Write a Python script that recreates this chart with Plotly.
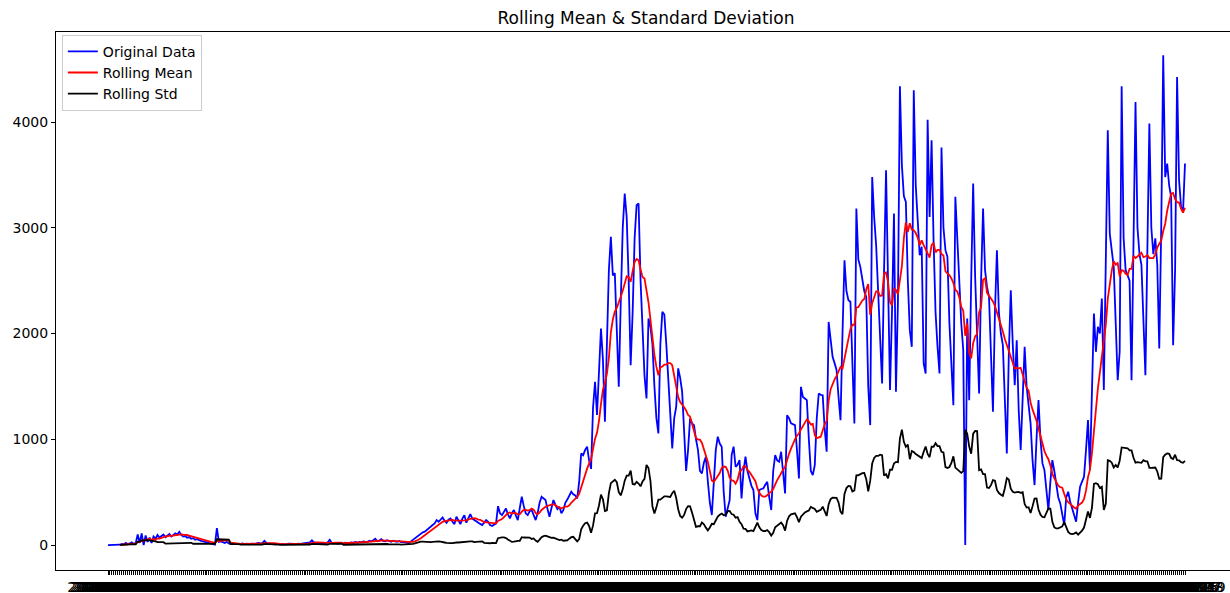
import pandas as pd
import plotly.graph_objects as go

# ---- daily values (Original Data) ----
seg0 = [0, 0, 0, 0, 0, 1,
        3, 10, 5, 20, 8, 15, 25, 10, 18,
        100, 20, 110, 0, 90, 30, 70, 20,
        80, 60, 95, 70, 85, 100, 75, 90, 105, 80, 95, 110, 100, 125,
        95, 80, 85, 70, 75, 60, 65, 50, 55, 45, 40, 35, 30, 25, 20, 15, 10, 5,
        160,
        30, 35, 25, 20, 30, 15, 10]
seg1 = [10, 8, 12, 5, 10, 15, 8, 12, 6, 10,
        14, 9, 12, 20, 15, 18, 40, 20, 12, 10,
        8, 12, 6, 10, 8, 5, 10, 7, 12, 9,
        6, 10, 8, 14, 10, 12, 18, 15, 20, 25,
        45, 25, 20, 18, 22, 15, 20, 18, 25, 50,
        20, 15, 18, 12, 15, 20, 18, 22, 15, 20,
        25, 20, 28, 22, 30, 25, 35, 30, 28, 40,
        35, 45, 60, 35, 40, 55, 40, 35, 45, 38,
        30, 40, 35, 30, 38, 28, 30, 25, 22, 20]
seg2 = [35, 50, 60, 80, 95, 110, 120, 126, 140, 158,
        175, 190, 205, 236, 220, 245, 261, 230, 211, 240,
        252, 220, 198, 268, 230, 198, 250, 283, 211, 260,
        293, 250, 236, 220, 210, 200, 189, 210, 236, 220,
        190, 180, 195, 205, 368, 300, 283, 320, 346, 290,
        252, 300, 331, 280, 236, 350, 457, 370, 300, 283,
        320, 331, 280, 236, 300, 400, 457, 440, 425, 340,
        268, 350, 425, 380, 340]
seg3 = [362, 300, 330, 400, 430, 470, 504, 480, 470, 441,
        600, 866, 850, 900, 930, 800, 720, 1300, 1544, 1229,
        1700, 2047, 1750, 1166, 1900, 2600, 2914, 2550, 2570, 2000,
        1496, 2300, 3000, 3323, 3100, 2500, 1701, 2200, 2900, 3213,
        3229, 2500, 2000, 1600, 1386, 2142, 2060, 1900, 1500, 1200,
        1055, 1900, 2205, 2180, 1900, 1600, 1200, 914, 1200, 1307,
        1670, 1580, 1450, 1000, 700, 900, 1197, 1150, 1134, 1000,
        900, 700, 677, 780, 835, 600, 400, 284, 600, 900,
        1024, 960, 930, 500, 268, 350, 425, 850, 930, 740,
        760, 803]
seg4 = [441, 700, 835, 700, 614, 560, 520, 300, 236, 520,
        530, 535, 570, 598, 450, 331, 700, 850, 800, 787,
        882, 650, 488, 1228, 1200, 1150, 1140, 1134, 900, 630,
        1496, 1400, 1386, 1370, 1000, 700, 662, 756, 1200, 1433,
        1420, 1417, 1100, 882, 2110, 1950, 1780, 1720, 1654, 1400,
        1181, 2000, 2693, 2400, 2315, 2300, 1700, 1150, 3181, 2700,
        2630, 2520, 2400, 2347, 1500, 1134, 3480, 3100, 2835, 2400,
        2032, 1528, 2600, 3543, 2500, 1465, 2200, 3134, 1449, 2300,
        4338]
seg5 = [3590, 3300, 3244, 2500, 2032, 1874, 4300, 3400, 3000, 2740,
        2820, 1717, 1622, 4022, 3103, 3827, 2882, 2200, 1874, 1622,
        3758, 3000, 2788, 2725, 2100, 1654, 1323, 3292, 2900, 2400,
        2095, 1843, 0, 2142, 1370, 2500, 3418, 2536, 2000, 1433,
        2500, 3181, 2600, 2441, 2347, 1800, 1260, 2200, 2788, 2200,
        2000, 1890, 1300, 866, 1800, 2410, 1900, 1512, 1937, 1276,
        898, 1400, 1874, 1500, 1339, 1150, 800, 567, 1000, 1370,
        1000, 772, 709, 500, 331, 600, 803, 700, 551, 450,
        394, 300, 189, 450, 504, 410]
seg6 = [350, 280, 220, 400, 551, 600, 646, 900, 1181, 709,
        1500, 2189, 1827, 2063, 2000, 2331, 1465, 2700, 3922, 2945,
        2800, 2630, 2100, 1559, 1827, 4337, 2900, 2600, 2550, 2500,
        1559, 2700, 4190, 3000, 2750, 2650, 2200, 1606, 2800, 3985,
        3000, 2750, 2900, 2650, 1859, 3000, 4630, 3480, 3607, 3400,
        3292, 1890, 2600, 4426, 3450, 3200, 3150, 3607]

original = seg0 + seg1 + seg2 + seg3 + seg4 + seg5 + seg6
dates = list(pd.date_range("2020-01-22", periods=len(original), freq="D").strftime("%Y-%m-%d"))
y_ticks = [0, 1000, 2000, 3000, 4000]

series = pd.Series(original, index=dates, dtype=float)
rolling_mean = series.rolling(window=7).mean()
rolling_std = series.rolling(window=7).std()

fig = go.Figure()
fig.add_trace(go.Scatter(x=dates, y=series.values, mode="lines", name="Original Data",
                         line=dict(color="#0000ff", width=1.8)))
fig.add_trace(go.Scatter(x=dates, y=rolling_mean.values, mode="lines", name="Rolling Mean",
                         line=dict(color="#ff0000", width=1.8)))
fig.add_trace(go.Scatter(x=dates, y=rolling_std.values, mode="lines", name="Rolling Std",
                         line=dict(color="#000000", width=1.8)))

n = len(dates)
px_per_day = (1185 - 108) / (n - 1)
left_pad = (108 - 56) / px_per_day
right_pad = (1230 - 1185) / px_per_day

fig.update_layout(
    template="none",
    width=1230, height=593,
    margin=dict(l=56, r=0, t=32, b=23, pad=0),
    paper_bgcolor="white", plot_bgcolor="white",
    font=dict(family="DejaVu Sans", color="#000000", size=14),
    title=dict(text="Rolling Mean & Standard Deviation", x=646 / 1230, xref="container",
               xanchor="center", y=1 - 18 / 593, yref="container", yanchor="middle",
               font=dict(size=17, color="#000000", family="DejaVu Sans")),
    showlegend=True,
    legend=dict(x=0.005, y=0.995, xanchor="left", yanchor="top",
                bgcolor="rgba(255,255,255,0.8)", bordercolor="#cccccc", borderwidth=1,
                font=dict(size=14, family="DejaVu Sans", color="#000000"),
                tracegroupgap=0, itemwidth=30),
    xaxis=dict(type="category", range=[-left_pad, n - 1 + right_pad],
               tickmode="array", tickvals=dates, ticktext=dates, tickangle=0,
               ticks="outside", ticklen=4, tickwidth=1, tickcolor="#000000",
               tickfont=dict(size=14, color="#000000"),
               showline=True, linecolor="#000000", linewidth=1, mirror=True,
               showgrid=False, zeroline=False, automargin=False),
    yaxis=dict(range=[-236, 4851], tickmode="array", tickvals=y_ticks,
               ticktext=[str(v) for v in y_ticks],
               ticks="outside", ticklen=4, tickwidth=1, tickcolor="#000000",
               tickfont=dict(size=14, color="#000000"),
               showline=True, linecolor="#000000", linewidth=1, mirror=False,
               showgrid=False, zeroline=False, automargin=False),
)

fig.write_html("out.html")
